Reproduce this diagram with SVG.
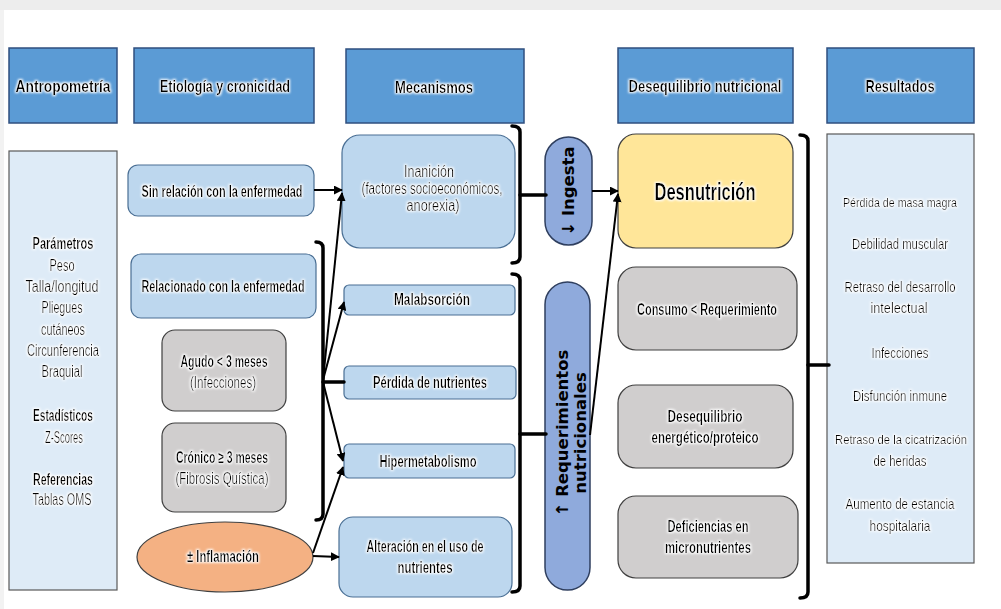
<svg xmlns="http://www.w3.org/2000/svg" width="1001" height="609" viewBox="0 0 1001 609">
<defs>
<style>
.hdr{fill:#5B9BD5;stroke:#2F4F7F;stroke-width:1.5}
.pan{fill:#DEEBF7;stroke:#595959;stroke-width:1.2}
.lb{fill:#BDD7EE;stroke:#4A6F94;stroke-width:1.2}
.gr{fill:#D0CECE;stroke:#404040;stroke-width:1.2}
.ye{fill:#FFE699;stroke:#404040;stroke-width:1.2}
.or{fill:#F4B183;stroke:#404040;stroke-width:1.2}
.pill{fill:#8FAADC;stroke:#2F3F5F;stroke-width:1.5}
text{font-family:"Liberation Sans",Arial,sans-serif;fill:#000;text-anchor:middle}
.t{font-size:16px}
.r{font-size:15px}
.s{font-size:13.5px}
.b{font-weight:bold}
.h{font-size:17px;font-weight:bold}
.v{font-family:"DejaVu Sans",Verdana,sans-serif;font-weight:bold;font-size:16.5px}
.ln{stroke:#000;stroke-width:2;fill:none}
.br{stroke:#000;stroke-width:3.5;fill:none;stroke-linejoin:round;stroke-linecap:round}
</style>
<marker id="ah" viewBox="0 0 10 10" refX="9" refY="5" markerWidth="4.5" markerHeight="4.5" orient="auto" markerUnits="strokeWidth">
<path d="M0,0 L10,5 L0,10 z" fill="#000"/>
</marker>
<filter id="glow" x="-10%" y="-40%" width="120%" height="180%">
<feMorphology in="SourceAlpha" operator="dilate" radius="1" result="d"/>
<feGaussianBlur in="d" stdDeviation="1.2" result="b"/>
<feFlood flood-color="#ffffff"/>
<feComposite in2="b" operator="in" result="g"/>
<feMerge><feMergeNode in="g"/><feMergeNode in="SourceGraphic"/></feMerge>
</filter>
</defs>
<rect x="0" y="0" width="1001" height="609" fill="#fff"/>
<rect x="0" y="0" width="1001" height="10" fill="#EDEDED"/>
<rect x="0" y="10" width="4" height="599" fill="#F2F2F2"/>

<!-- headers -->
<g id="hdr-antropometria"><rect class="hdr" x="9" y="48" width="108" height="75"/><text class="h" x="63" y="92" filter="url(#glow)" textLength="95" lengthAdjust="spacingAndGlyphs">Antropometría</text></g>
<g id="hdr-etiologia"><rect class="hdr" x="134" y="48" width="180" height="75"/><text class="h" x="225" y="92" filter="url(#glow)" textLength="130" lengthAdjust="spacingAndGlyphs">Etiología y cronicidad</text></g>
<g id="hdr-mecanismos"><rect class="hdr" x="346" y="49" width="178" height="74"/><text class="h" x="434" y="93" filter="url(#glow)" textLength="78" lengthAdjust="spacingAndGlyphs">Mecanismos</text></g>
<g id="hdr-desequilibrio"><rect class="hdr" x="618" y="48" width="175" height="75"/><text class="h" x="705" y="92" filter="url(#glow)" textLength="153" lengthAdjust="spacingAndGlyphs">Desequilibrio nutricional</text></g>
<g id="hdr-resultados"><rect class="hdr" x="827" y="48" width="147" height="75"/><text class="h" x="900" y="92" filter="url(#glow)" textLength="69" lengthAdjust="spacingAndGlyphs">Resultados</text></g>

<!-- Antropometria panel -->
<g id="panel-antropometria">
<rect class="pan" x="9" y="151" width="108" height="439"/>
<g class="t" filter="url(#glow)">
<text class="b" x="63" y="249" textLength="61" lengthAdjust="spacingAndGlyphs">Parámetros</text>
<text x="62" y="271" textLength="25" lengthAdjust="spacingAndGlyphs">Peso</text>
<text x="62" y="292" textLength="73" lengthAdjust="spacingAndGlyphs">Talla/longitud</text>
<text x="62" y="313" textLength="41" lengthAdjust="spacingAndGlyphs">Pliegues</text>
<text x="63" y="335" textLength="44" lengthAdjust="spacingAndGlyphs">cutáneos</text>
<text x="63" y="356" textLength="72" lengthAdjust="spacingAndGlyphs">Circunferencia</text>
<text x="62" y="377" textLength="41" lengthAdjust="spacingAndGlyphs">Braquial</text>
<text class="b" x="63" y="421" textLength="60" lengthAdjust="spacingAndGlyphs">Estadísticos</text>
<text x="64" y="443" textLength="38" lengthAdjust="spacingAndGlyphs">Z-Scores</text>
<text class="b" x="63" y="485" textLength="60" lengthAdjust="spacingAndGlyphs">Referencias</text>
<text x="62" y="505" textLength="59" lengthAdjust="spacingAndGlyphs">Tablas OMS</text>
</g>
</g>

<!-- Etiologia -->
<g id="sin-relacion"><rect class="lb" x="128" y="165" width="186" height="51" rx="10"/><text class="t b" x="222" y="197" filter="url(#glow)" textLength="161" lengthAdjust="spacingAndGlyphs">Sin relación con la enfermedad</text></g>
<g id="relacionado"><rect class="lb" x="131" y="254" width="185" height="64" rx="10"/><text class="t b" x="223" y="292" filter="url(#glow)" textLength="163" lengthAdjust="spacingAndGlyphs">Relacionado con la enfermedad</text></g>
<g id="agudo"><rect class="gr" x="162" y="330" width="124" height="81" rx="13"/><text class="t b" x="224" y="367" filter="url(#glow)" textLength="87" lengthAdjust="spacingAndGlyphs">Agudo &lt; 3 meses</text><text class="t" x="223" y="388" filter="url(#glow)" textLength="66" lengthAdjust="spacingAndGlyphs">(Infecciones)</text></g>
<g id="cronico"><rect class="gr" x="162" y="423" width="124" height="89" rx="13"/><text class="t b" x="222" y="463" filter="url(#glow)" textLength="92" lengthAdjust="spacingAndGlyphs">Crónico ≥ 3 meses</text><text class="t" x="222" y="484" filter="url(#glow)" textLength="93" lengthAdjust="spacingAndGlyphs">(Fibrosis Quística)</text></g>
<g id="inflamacion"><ellipse class="or" cx="225" cy="557" rx="88" ry="35"/><text class="t b" x="223" y="562" filter="url(#glow)" textLength="72" lengthAdjust="spacingAndGlyphs">± Inflamación</text></g>

<!-- Mecanismos -->
<g id="inanicion"><rect class="lb" x="342" y="135" width="173" height="113" rx="18"/>
<g class="t" filter="url(#glow)"><text x="429" y="177" textLength="50" lengthAdjust="spacingAndGlyphs">Inanición</text><text x="432" y="194" textLength="141" lengthAdjust="spacingAndGlyphs">(factores socioeconómicos,</text><text x="433" y="211" textLength="53" lengthAdjust="spacingAndGlyphs">anorexia)</text></g></g>
<g id="malabsorcion"><rect class="lb" x="344" y="285" width="171" height="30" rx="5"/><text class="t b" x="432" y="305" filter="url(#glow)" textLength="76" lengthAdjust="spacingAndGlyphs">Malabsorción</text></g>
<g id="perdida"><rect class="lb" x="344" y="366" width="172" height="33" rx="5"/><text class="t b" x="430" y="388" filter="url(#glow)" textLength="114" lengthAdjust="spacingAndGlyphs">Pérdida de nutrientes</text></g>
<g id="hipermetabolismo"><rect class="lb" x="344" y="444" width="171" height="34" rx="5"/><text class="t b" x="428" y="467" filter="url(#glow)" textLength="97" lengthAdjust="spacingAndGlyphs">Hipermetabolismo</text></g>
<g id="alteracion"><rect class="lb" x="339" y="517" width="173" height="80" rx="14"/><text class="t b" x="425" y="552" filter="url(#glow)" textLength="117" lengthAdjust="spacingAndGlyphs">Alteración en el uso de</text><text class="t b" x="425" y="573" filter="url(#glow)" textLength="55" lengthAdjust="spacingAndGlyphs">nutrientes</text></g>

<!-- pills -->
<g id="ingesta"><rect class="pill" x="545" y="137" width="47" height="108" rx="23.5"/><text class="v" transform="translate(574,191) rotate(-90)">↓ Ingesta</text></g>
<g id="requerimientos"><rect class="pill" x="545" y="282" width="45" height="308" rx="22.5"/>
<text class="v" transform="translate(568,433) rotate(-90)">↑ Requerimientos</text>
<text class="v" transform="translate(586,433) rotate(-90)">nutricionales</text></g>

<!-- Desequilibrio -->
<g id="desnutricion"><rect class="ye" x="618" y="134" width="175" height="114" rx="18"/><text class="b" x="705" y="200" filter="url(#glow)" style="font-size:24px" textLength="101" lengthAdjust="spacingAndGlyphs">Desnutrición</text></g>
<g id="consumo"><rect class="gr" x="618" y="267" width="179" height="83" rx="18"/><text class="t b" x="707" y="315" filter="url(#glow)" textLength="140" lengthAdjust="spacingAndGlyphs">Consumo &lt; Requerimiento</text></g>
<g id="desequilibrio"><rect class="gr" x="618" y="385" width="175" height="83" rx="18"/><text class="t b" x="705" y="422" filter="url(#glow)" textLength="75" lengthAdjust="spacingAndGlyphs">Desequilibrio</text><text class="t b" x="705" y="443" filter="url(#glow)" textLength="107" lengthAdjust="spacingAndGlyphs">energético/proteico</text></g>
<g id="deficiencias"><rect class="gr" x="618" y="496" width="180" height="82" rx="18"/><text class="t b" x="708" y="532" filter="url(#glow)" textLength="81" lengthAdjust="spacingAndGlyphs">Deficiencias en</text><text class="t b" x="708" y="553" filter="url(#glow)" textLength="86" lengthAdjust="spacingAndGlyphs">micronutrientes</text></g>

<!-- Resultados panel -->
<g id="panel-resultados">
<rect class="pan" x="827" y="134" width="147" height="429"/>
<g class="r" filter="url(#glow)">
<text class="s" x="900" y="207" textLength="114" lengthAdjust="spacingAndGlyphs">Pérdida de masa magra</text>
<text x="900" y="249" textLength="96" lengthAdjust="spacingAndGlyphs">Debilidad muscular</text>
<text x="900" y="292" textLength="111" lengthAdjust="spacingAndGlyphs">Retraso del desarrollo</text>
<text x="899" y="313" textLength="57" lengthAdjust="spacingAndGlyphs">intelectual</text>
<text x="900" y="358" textLength="57" lengthAdjust="spacingAndGlyphs">Infecciones</text>
<text x="900" y="401" textLength="94" lengthAdjust="spacingAndGlyphs">Disfunción inmune</text>
<text class="s" x="901" y="444" textLength="132" lengthAdjust="spacingAndGlyphs">Retraso de la cicatrización</text>
<text x="900" y="466" textLength="53" lengthAdjust="spacingAndGlyphs">de heridas</text>
<text x="900" y="509" textLength="109" lengthAdjust="spacingAndGlyphs">Aumento de estancia</text>
<text x="900" y="531" textLength="61" lengthAdjust="spacingAndGlyphs">hospitalaria</text>
</g>
</g>

<!-- connectors -->
<g id="connectors">
<path class="br" d="M316,242 Q323,242 323,248 L323,514 Q323,520 316,520"/>
<path class="br" d="M323,382 L344,382"/>
<path class="br" d="M512,126 Q520,126 520,132 L520,257 Q520,263 512,263"/>
<path class="br" d="M520,195 L546,195"/>
<path class="br" d="M512,274 Q520,274 520,280 L520,586 Q520,592 512,592"/>
<path class="br" d="M520,434 L546,434"/>
<path class="br" d="M800,135 Q808,135 808,141 L808,592 Q808,598 800,598"/>
<path class="br" d="M808,365 L829,365"/>
<line class="ln" x1="314" y1="190" x2="342" y2="190" marker-end="url(#ah)"/>
<line class="ln" x1="323" y1="380" x2="342" y2="193" marker-end="url(#ah)"/>
<line class="ln" x1="323" y1="380" x2="344" y2="302" marker-end="url(#ah)"/>
<line class="ln" x1="323" y1="382" x2="343" y2="461" marker-end="url(#ah)"/>
<line class="ln" x1="313" y1="553" x2="343" y2="467" marker-end="url(#ah)"/>
<line class="ln" x1="313" y1="556" x2="339" y2="557" marker-end="url(#ah)"/>
<line class="ln" x1="592" y1="191" x2="618" y2="191" marker-end="url(#ah)"/>
<line class="ln" x1="590" y1="435" x2="618" y2="194" marker-end="url(#ah)"/>
</g>
</svg>
